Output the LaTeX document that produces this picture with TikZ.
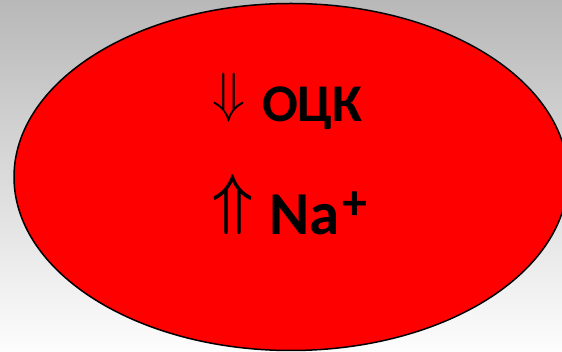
\documentclass[tikz,border=0pt]{standalone}
\usepackage{fontspec}
\usetikzlibrary{shapes.geometric}
\setmainfont{Carlito}
\definecolor{bgtop}{RGB}{184,184,184}
\definecolor{bgmid}{RGB}{226,226,226}
\definecolor{bgbot}{RGB}{253,253,253}
\definecolor{cellred}{RGB}{255,0,0}
\tikzset{
  lbl/.style={inner sep=0pt, outer sep=0pt, font=\bfseries, anchor=base west},
  arr/.style={inner sep=0pt, outer sep=0pt, anchor=south west},
}
\begin{document}
\begin{tikzpicture}[x=1pt,y=-1pt]
\useasboundingbox (0,0) rectangle (562,352);
\shade[top color=bgtop, middle color=bgmid, bottom color=bgbot] (0,0) rectangle (562,352);
\begin{scope}
\clip (0,0) rectangle (562,352);
\node[ellipse, draw=black, line width=1.5pt, fill=cellred, minimum width=554pt, minimum height=347pt, inner sep=0pt] (cell) at (291,177) {};
\end{scope}
\node[arr] (a1) at (212,122) {\resizebox*{33pt}{49pt}{$\Downarrow$}};
\node[lbl, font=\bfseries\fontsize{53}{60}\selectfont] (t1) at (262,122) {ОЦК};
\node[arr] (a2) at (212,235) {\resizebox*{41pt}{60pt}{\boldmath$\Uparrow$}};
\node[lbl, font=\bfseries\fontsize{61}{66}\selectfont] (t2) at (269,235) {Na};
\node[inner sep=0pt, outer sep=0pt, anchor=base west, font=\bfseries\fontsize{50}{54}\selectfont] (t3) at (t2.base east) [xshift=3pt, yshift=15pt] {+};
\end{tikzpicture}
\end{document}
